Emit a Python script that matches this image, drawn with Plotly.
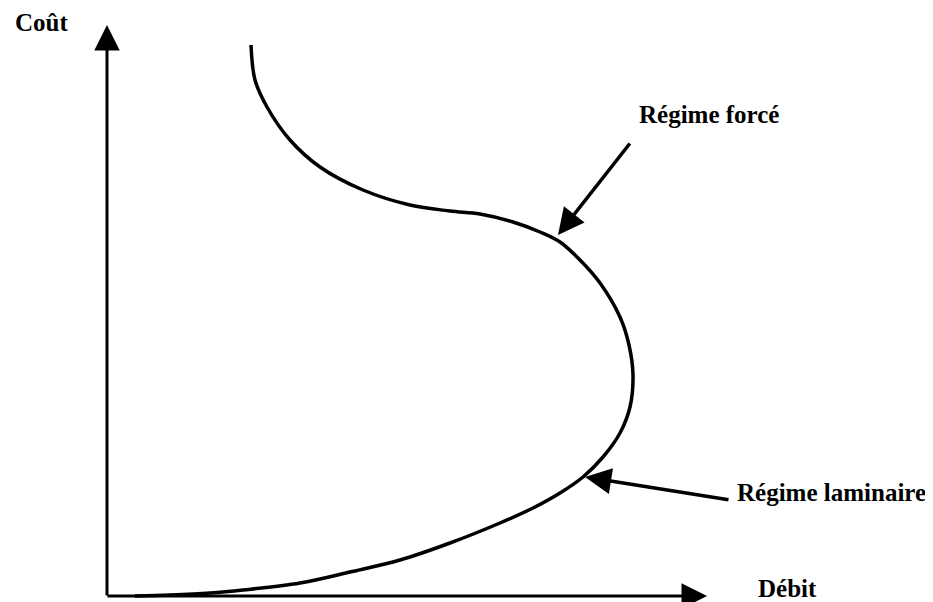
import plotly.graph_objects as go

# Conceptual curve: cost vs flow (arbitrary units, origin at axes corner)
debit = [28, 63, 103, 136, 193, 243, 293, 343, 393, 426, 453, 476, 496, 513, 523, 526,
         522, 513, 493, 473, 453, 433, 406, 373, 343, 303, 256, 213, 183, 160, 148, 144]
cout = [0, 1, 3, 6, 13, 24, 36, 53, 73, 88, 103, 119, 139, 163, 189, 221,
        251, 279, 313, 336, 354, 364, 374, 382, 385, 391, 406, 429, 456, 489, 516, 551]

axis_labels = ["Coût", "Débit"]
regime_labels = ["Régime forcé", "Régime laminaire"]

FONT = dict(family="Liberation Serif, Times New Roman, serif", size=25, color="black")

fig = go.Figure()
fig.add_trace(go.Scatter(x=debit, y=cout, mode="lines",
                         line=dict(color="black", width=3.5, shape="spline", smoothing=1.0),
                         hoverinfo="skip", showlegend=False))

def arrow(x, y, ax, ay, width=3, size=1.7):
    fig.add_annotation(x=x, y=y, ax=ax, ay=ay, xref="x", yref="y", axref="x", ayref="y",
                       showarrow=True, arrowhead=2, arrowsize=size, arrowwidth=width,
                       arrowcolor="black", text="", standoff=0)

# axes
arrow(0, 571, 0, -1)
arrow(600, 0, -1, 0)
# pointers
arrow(451, 361, 524, 454, width=3.5, size=1.5)
arrow(478, 119, 623, 96, width=3.5, size=1.5)

def label(text, x, y):
    fig.add_annotation(x=x, y=y, xref="x", yref="y", text="<b>%s</b>" % text,
                       showarrow=False, font=FONT, xanchor="center", yanchor="middle")

label(axis_labels[0], -66, 574)
label(axis_labels[1], 680, 8)
label(regime_labels[0], 602, 482)
label(regime_labels[1], 724, 104)

# the page body adds an 8px offset; ranges compensate so marks land where the reference has them
fig.update_layout(
    width=933, height=602,
    margin=dict(l=0, r=0, t=0, b=0),
    paper_bgcolor="white", plot_bgcolor="white",
    xaxis=dict(range=[-99, 834], visible=False, fixedrange=True),
    yaxis=dict(range=[-14, 588], visible=False, fixedrange=True),
)

fig.write_html("out.html")
